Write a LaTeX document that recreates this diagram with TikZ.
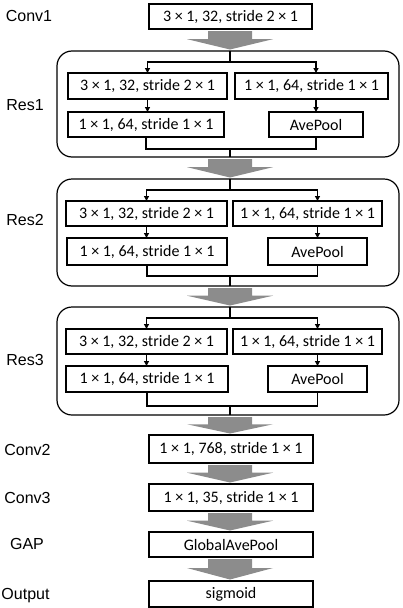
\documentclass[tikz,border=0pt]{standalone}
\usepackage{fontspec}
\setmainfont{Liberation Sans}
\newfontfamily\boxfont{Carlito}
\usetikzlibrary{arrows.meta,calc}
\definecolor{arrgray}{RGB}{140,140,140}
\newcommand\garrow[2]{%
  \fill[arrgray] let \p1=(#1.south), \p2=(#2.north),
    \n1={\y1-2pt}, \n2={\y2+1.5pt}, \n3={\y1-2pt-0.44*(\y1-\y2-3.5pt)} in
    (208pt,\n1) -- (252pt,\n1) -- (252pt,\n3) -- (273pt,\n3) -- (230pt,\n2)
    -- (187pt,\n3) -- (208pt,\n3) -- cycle;}
\begin{document}
\begin{tikzpicture}[x=1pt,y=-1pt,
  box/.style={draw,line width=1.2pt,inner sep=0pt,outer sep=0pt,
    font=\boxfont\fontsize{16}{18}\selectfont},
  resbox/.style={draw,line width=1.2pt,rounded corners=15pt,inner sep=0pt,outer sep=0pt},
  lab/.style={font=\fontsize{16}{18}\selectfont,inner sep=0pt},
  conn/.style={line width=1.3pt},
  arr/.style={line width=1.3pt,-{Triangle[width=5pt,length=5pt]}}]
\useasboundingbox (0,0) rectangle (402,608);

% labels
\node[lab] (lconv1) at (29,16) {Conv1};
\node[lab] (lres1) at (25,105) {Res1};
\node[lab] (lres2) at (25,220) {Res2};
\node[lab] (lres3) at (25,360) {Res3};
\node[lab] (lconv2) at (27.5,450) {Conv2};
\node[lab] (lconv3) at (27.5,498) {Conv3};
\node[lab] (lgap) at (27,544) {GAP};
\node[lab] (lout) at (25.5,596) {Output};

% main column
\node[box,minimum width=163pt,minimum height=25pt] (conv1) at (230.5,16.5) {3 × 1, 32, stride 2 × 1};
\node[box,minimum width=164pt,minimum height=28pt] (conv2) at (231,449) {1 × 1, 768, stride 1 × 1};
\node[box,minimum width=164pt,minimum height=27pt] (conv3) at (231,497.5) {1 × 1, 35, stride 1 × 1};
\node[box,minimum width=164pt,minimum height=25pt] (gap) at (231,544.5) {GlobalAvePool};
\node[box,minimum width=164pt,minimum height=26pt] (sig) at (231,594) {sigmoid};

% residual blocks
\node[resbox,minimum width=342pt,minimum height=106pt] (res1) at (228,104) {};
\node[resbox,minimum width=342pt,minimum height=107pt] (res2) at (228,232.5) {};
\node[resbox,minimum width=342pt,minimum height=108pt] (res3) at (228,361) {};

% Res1 inner
\node[box,minimum width=159pt,minimum height=26pt] (a1) at (147.5,86) {3 × 1, 32, stride 2 × 1};
\node[box,minimum width=153pt,minimum height=26pt] (b1) at (311.5,86) {1 × 1, 64, stride 1 × 1};
\node[box,minimum width=156pt,minimum height=25pt] (c1) at (146,124.5) {1 × 1, 64, stride 1 × 1};
\node[box,minimum width=94pt,minimum height=25pt] (d1) at (316,124.5) {AvePool};
\coordinate (s1) at (230,62);
\coordinate (m1) at (230,149);

% Res2 inner
\node[box,minimum width=161pt,minimum height=25pt] (a2) at (146.5,213.5) {3 × 1, 32, stride 2 × 1};
\node[box,minimum width=149pt,minimum height=25pt] (b2) at (307.5,213.5) {1 × 1, 64, stride 1 × 1};
\node[box,minimum width=160pt,minimum height=27pt] (c2) at (147,251.5) {1 × 1, 64, stride 1 × 1};
\node[box,minimum width=99pt,minimum height=27pt] (d2) at (317.5,251.5) {AvePool};
\coordinate (s2) at (230,190);
\coordinate (m2) at (230,276);

% Res3 inner
\node[box,minimum width=161pt,minimum height=25pt] (a3) at (146.5,341.5) {3 × 1, 32, stride 2 × 1};
\node[box,minimum width=149pt,minimum height=25pt] (b3) at (307.5,341.5) {1 × 1, 64, stride 1 × 1};
\node[box,minimum width=162pt,minimum height=26pt] (c3) at (147,379) {1 × 1, 64, stride 1 × 1};
\node[box,minimum width=99pt,minimum height=26pt] (d3) at (317.5,379) {AvePool};
\coordinate (s3) at (230,318);
\coordinate (m3) at (230,406);

\foreach \i in {1,2,3}{
  \draw[conn] (s\i |- res\i.north) -- (s\i);
  \draw[arr] (s\i) -| (a\i.north);
  \draw[arr] (s\i) -| (b\i.north -| d\i.north);
  \draw[arr] (a\i.south) -- (a\i.south |- c\i.north);
  \draw[arr] (b\i.south -| d\i.north) -- (d\i.north);
  \draw[conn] (c\i.south) |- (m\i) -| (d\i.south);
  \draw[conn] (m\i) -- (m\i |- res\i.south);
}

% gray block arrows
\garrow{conv1}{res1}
\garrow{res1}{res2}
\garrow{res2}{res3}
\garrow{res3}{conv2}
\garrow{conv2}{conv3}
\garrow{conv3}{gap}
\garrow{gap}{sig}
\end{tikzpicture}
\end{document}
